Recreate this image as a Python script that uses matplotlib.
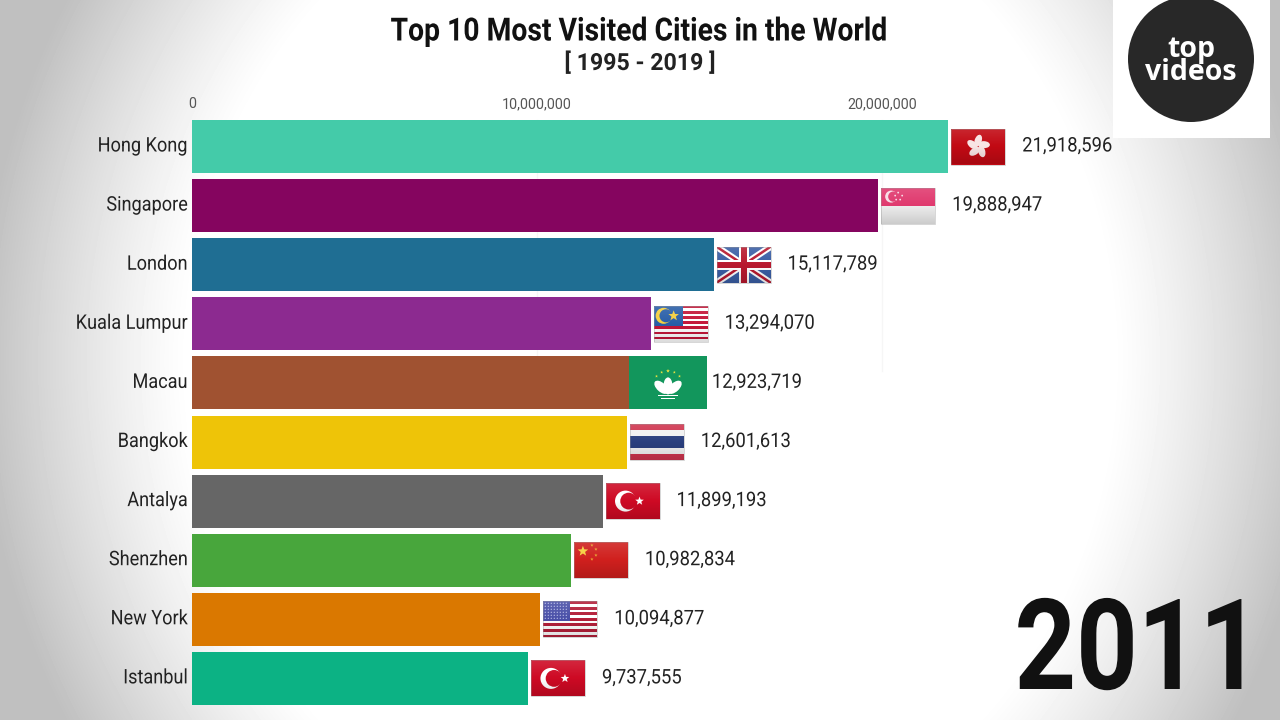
#!/usr/bin/env python3

import numpy as np
import matplotlib
matplotlib.use("Agg")
import matplotlib.pyplot as plt
from matplotlib.patches import Rectangle, Circle, Ellipse, Polygon
from matplotlib.patheffects import AbstractPathEffect
from matplotlib.transforms import Affine2D

cities = ["Hong Kong", "Singapore", "London", "Kuala Lumpur", "Macau",
          "Bangkok", "Antalya", "Shenzhen", "New York", "Istanbul"]
visitors = [21918596, 19888947, 15117789, 13294070, 12923719,
            12601613, 11899193, 10982834, 10094877, 9737555]
bar_colors = ["#44CBA9", "#85055F", "#1F6E93", "#8C2A90", "#A05231",
              "#EEC408", "#666666", "#48A63C", "#DA7800", "#0CB284"]
flags = ["hk", "sg", "gb", "my", "mo", "th", "tr", "cn", "us", "tr"]
xticks = [0, 10000000, 20000000]
title = "Top 10 Most Visited Cities in the World"
subtitle = "[ 1995 - 2019 ]"
year = "2011"

plt.rcParams["font.family"] = ["Roboto", "DejaVu Sans"]

W, H = 1280, 720
PX_PER_VALUE = 34.5e-6  # 10M = 345 px
ROW_TOP = 146.5
ROW_STEP = 59.1


class Squeeze(AbstractPathEffect):
    # no condensed font installed, so narrow the glyphs when drawing
    def __init__(self, sx, align="left", dy=0):
        super().__init__()
        self.sx, self.align, self.dy = sx, align, dy

    def draw_path(self, renderer, gc, tpath, affine, rgbFace=None):
        w = tpath.get_extents().width
        frac = {"left": 0, "center": 0.5, "right": 1}[self.align]
        squeeze = Affine2D().scale(self.sx, 1).translate(frac * (1 - self.sx) * w, 0)
        renderer.draw_path(gc, tpath, squeeze + affine + Affine2D().translate(0, self.dy), rgbFace)


fig = plt.figure(figsize=(12.8, 7.2), dpi=100)

# vignette background
bg = fig.add_axes([0, 0, 1, 1], zorder=0)
yy, xx = np.mgrid[0:H, 0:W]
dist = np.sqrt(((xx - 650) / 480.0) ** 2 + ((yy - 360) / 525.0) ** 2)
fade = np.clip((dist - 0.96) / 0.44, 0, 1)
shade = 1 - 0.25 * fade ** 1.2
bg.imshow(shade, cmap="gray", vmin=0, vmax=1, aspect="auto")
bg.axis("off")

# bars, x=0 at 192 px
left = 192 / W
ax = fig.add_axes([left, 0, 1 - left, 1], zorder=1)
ax.patch.set_alpha(0)
ax.set_xlim(0, (W - 192) / PX_PER_VALUE)
ax.set_ylim((H - ROW_TOP) / ROW_STEP, -ROW_TOP / ROW_STEP)
pos = np.arange(len(cities))
ax.barh(pos, visitors, height=53 / ROW_STEP, color=bar_colors, zorder=3)
for s in ax.spines.values():
    s.set_visible(False)
ax.set_xticks(xticks)
ax.set_xticklabels([f"{t:,}" for t in xticks], fontsize=10.3, color="#555555")
ax.xaxis.tick_top()
ax.tick_params(axis="x", length=0, pad=-80, top=False)
ax.set_yticks(pos)
ax.set_yticklabels(cities, fontsize=14.5, color="#222222")
ax.tick_params(axis="y", length=0, pad=3)
for lab in ax.get_yticklabels():
    lab.set_path_effects([Squeeze(0.9, "right", dy=2.5)])
for t in xticks[1:]:
    ax.plot([t, t], [-0.45, 3.8], color="#f6f6f6", lw=1, zorder=1)

# pixel overlay for flags and logo
ov = fig.add_axes([0, 0, 1, 1], zorder=2)
ov.set_xlim(0, W)
ov.set_ylim(H, 0)
ov.axis("off")
ov.set_autoscale_on(False)


def rect(x, y, w, h, c, z=5, **kw):
    p = Rectangle((x, y), w, h, facecolor=c, edgecolor="none", zorder=z, **kw)
    ov.add_patch(p)
    return p


def star(cx, cy, r, c, z=7):
    ang = np.deg2rad(np.arange(10) * 36 - 90)
    rad = np.where(np.arange(10) % 2 == 0, r, r * 0.42)
    pts = np.c_[cx + rad * np.cos(ang), cy + rad * np.sin(ang)]
    ov.add_patch(Polygon(pts, facecolor=c, edgecolor="none", zorder=z))


def crescent(cx, cy, r, bg_c, c="white", off=0.3, r2=0.8):
    ov.add_patch(Circle((cx, cy), r, color=c, zorder=6, lw=0))
    ov.add_patch(Circle((cx + r * off, cy), r * r2, color=bg_c, zorder=6.5, lw=0))


def draw_flag(kind, x, y, w=54.0, h=36.0, gloss=True):
    cx, cy = x + w / 2, y + h / 2
    if kind == "hk":
        rect(x, y, w, h, "#C20A14")
        for a in range(0, 360, 72):
            ang = np.deg2rad(a - 90)
            ov.add_patch(Ellipse((cx + 6 * np.cos(ang), cy + 6 * np.sin(ang)), 12, 7,
                                 angle=a - 90 + 20, color="#F8E4E4", zorder=6, lw=0))
    elif kind == "sg":
        rect(x, y, w, h / 2, "#E0396E")
        rect(x, y + h / 2, w, h / 2, "#EDEDED")
        crescent(x + 10, y + 9, 6, "#E0396E", "#F8DDE6", 0.35, 0.85)
        for dx, dy in [(17, 5), (21, 8), (19, 12), (15, 12), (14, 8)]:
            ov.add_patch(Circle((x + dx, y + dy), 0.9, color="#F8DDE6", zorder=7, lw=0))
    elif kind == "gb":
        base = rect(x, y, w, h, "#3B5FA5")
        for (a, b), lw, col in [(((x, y), (x + w, y + h)), 6.5, "white"),
                                (((x, y + h), (x + w, y)), 6.5, "white"),
                                (((x, y), (x + w, y + h)), 2.5, "#B8192F"),
                                (((x, y + h), (x + w, y)), 2.5, "#B8192F")]:
            line, = ov.plot([a[0], b[0]], [a[1], b[1]], color=col, lw=lw * 0.72, zorder=5.5)
            line.set_clip_path(base)
        rect(cx - 5, y, 10, h, "white", z=6)
        rect(x, cy - 5, w, 10, "white", z=6)
        rect(cx - 3, y, 6, h, "#B8192F", z=6.5)
        rect(x, cy - 3, w, 6, "#B8192F", z=6.5)
    elif kind == "my":
        rect(x, y, w, h, "white")
        for i in range(0, 14, 2):
            rect(x, y + i * h / 14, w, h / 14, "#C4183A", z=5.2)
        rect(x, y, w * 0.55, h * 8 / 14, "#2A5FA8", z=5.5)
        crescent(x + 10, y + 10, 8, "#2A5FA8", "#F4D040", 0.3, 0.82)
        star(x + 20, y + 10, 5.5, "#F4D040")
    elif kind == "mo":
        rect(x, y, w, h, "#12965C")
        for a in (-28, 0, 28):
            ov.add_patch(Ellipse((cx + a * 0.24, cy + 3 + abs(a) * 0.05), 9, 17, angle=a * 1.7,
                                 color="white", zorder=6, lw=0))
        rect(cx - 10, cy + 12, 20, 1.5, "white", z=6)
        rect(cx - 7, cy + 15, 14, 1.5, "white", z=6)
        for a in (-50, -25, 0, 25, 50):
            ang = np.deg2rad(a - 90)
            star(cx + 15 * np.cos(ang), cy + 3 + 15 * np.sin(ang), 2 if a == 0 else 1.5, "#E8E040")
    elif kind == "th":
        rect(x, y, w, h, "#D0354F")
        rect(x, y + h / 6, w, h * 4 / 6, "#F2F2F2", z=5.2)
        rect(x, y + h / 3, w, h / 3, "#2A3F7E", z=5.4)
    elif kind == "tr":
        rect(x, y, w, h, "#CE0A24")
        crescent(cx - 7, cy, 10.5, "#CE0A24", "white", 0.3, 0.8)
        star(cx + 7, cy, 4.5, "white")
    elif kind == "cn":
        rect(x, y, w, h, "#D0201E")
        star(x + 9, y + 9, 5.5, "#F6D040")
        for dx, dy in [(18, 3), (22, 7), (22, 13), (18, 17)]:
            star(x + dx, y + dy, 1.7, "#E8A030")
    elif kind == "us":
        rect(x, y, w, h, "white")
        for i in range(0, 13, 2):
            rect(x, y + i * h / 13, w, h / 13, "#B4203A", z=5.2)
        rect(x, y, w * 0.5, h * 7 / 13, "#4A50A8", z=5.5)
        for gx in np.arange(x + 2, x + w * 0.5 - 1, 3):
            for gy in np.arange(y + 2, y + h * 7 / 13 - 1, 3):
                ov.add_patch(Circle((gx, gy), 0.6, color="#C8CCF0", zorder=6, lw=0))
    if gloss:
        rgba = np.zeros((64, 1, 4))
        t = np.linspace(0, 1, 64)
        rgba[:, 0, :3] = np.where(t < 0.5, 1.0, 0.0)[:, None]
        rgba[:, 0, 3] = np.where(t < 0.5, 0.12 * (1 - t / 0.5), 0.14 * (t - 0.5) / 0.5)
        ov.imshow(rgba, extent=(x, x + w, y + h, y), aspect="auto", zorder=8)
        ov.add_patch(Rectangle((x, y), w, h, fill=False, edgecolor="#99999966", lw=0.7, zorder=9))


for i, (val, kind) in enumerate(zip(visitors, flags)):
    end = ax.transData.transform((val, i))[0]
    row = ROW_TOP + i * ROW_STEP
    if kind == "mo":
        # this flag sits stretched over the end of the bar
        draw_flag(kind, 629, row - 26.5, w=78, h=53, gloss=False)
    else:
        draw_flag(kind, end + 3, row - 18)
    lab = ov.text(end + 74, row - 0.5, f"{val:,}", fontsize=14.5, color="#222222",
                  va="center", ha="left", zorder=10)
    lab.set_path_effects([Squeeze(0.915)])

# logo
rect(1113, 0, 157, 138, "white", z=4)
ov.add_patch(Circle((1191, 59), 63, color="#282828", zorder=5, lw=0))
ov.text(1191, 61, "top\nvideos", fontsize=20.5, fontweight="bold", color="white", family="Open Sans",
        ha="center", va="center", ma="center", linespacing=0.72, zorder=6)

# headings
t1 = fig.text(640 / W, 1 - 31.5 / H, title, fontsize=23, fontweight="bold", color="#111111",
              ha="center", va="center", zorder=5)
t1.set_path_effects([Squeeze(0.886, "center")])
t2 = fig.text(640 / W, 1 - 63 / H, subtitle, fontsize=17, fontweight="bold", color="#222222",
              ha="center", va="center", zorder=5)
t2.set_path_effects([Squeeze(0.98, "center")])
t3 = fig.text(1265 / W, 1 - 689 / H, year, fontsize=91, fontweight="bold", color="#111111",
              ha="right", va="baseline", zorder=5)
t3.set_path_effects([Squeeze(0.85, "right")])

fig.savefig("out.png", dpi=100)
